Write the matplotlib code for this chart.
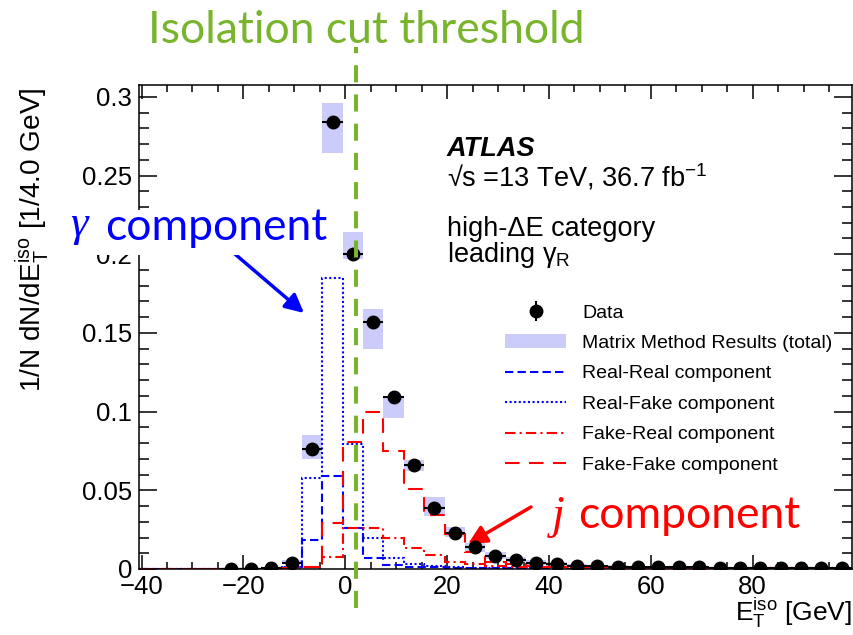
import numpy as np
import matplotlib.pyplot as plt
from matplotlib.patches import Patch, Rectangle
from matplotlib.lines import Line2D
from matplotlib.ticker import MultipleLocator, FuncFormatter

plt.rcParams['font.family'] = ['Liberation Sans', 'DejaVu Sans']
plt.rcParams['mathtext.fontset'] = 'custom'
plt.rcParams['mathtext.rm'] = 'Liberation Sans'
plt.rcParams['mathtext.it'] = 'Liberation Sans:italic'
plt.rcParams['mathtext.bf'] = 'Liberation Sans:bold'

W, H = 854, 635

# 4 GeV bins of E_T^iso
bin_edges = np.arange(-40.5, 100.0, 4.0)

# data points (bins from -24.5 GeV upwards)
data_centres = np.arange(-22.5, 98.0, 4.0)
data_vals = [0.0002, 0.0003, 0.0008, 0.004, 0.076, 0.284, 0.200, 0.157, 0.109, 0.066,
             0.039, 0.023, 0.014, 0.0085, 0.0058, 0.004, 0.0032, 0.0022, 0.0018, 0.0015,
             0.0013, 0.0012, 0.0011, 0.0010, 0.0009, 0.0009, 0.0008, 0.0008, 0.0007, 0.0007,
             0.0006]

# matrix method total, lower / upper edge of the uncertainty band
mm_lo = [0.0, 0.0, 0.0003, 0.003, 0.070, 0.264, 0.197, 0.140, 0.096, 0.0620,
         0.0335, 0.0205, 0.0105, 0.0065, 0.0042, 0.0028, 0.0021, 0.0013, 0.0010, 0.0008,
         0.0007, 0.0006, 0.0005, 0.0005, 0.0004, 0.0004, 0.0004, 0.0003, 0.0003, 0.0003,
         0.0002]
mm_hi = [0.0005, 0.0006, 0.0012, 0.006, 0.085, 0.296, 0.214, 0.165, 0.110, 0.0694,
         0.0455, 0.0267, 0.0165, 0.0105, 0.0075, 0.0055, 0.0043, 0.0033, 0.0027, 0.0023,
         0.0020, 0.0018, 0.0017, 0.0015, 0.0014, 0.0014, 0.0013, 0.0013, 0.0012, 0.0012,
         0.0011]

# components (all 35 bins)
real_real = [0.0] * 7 + [0.001, 0.0186, 0.059, 0.026, 0.007, 0.0026, 0.0015, 0.001, 0.0008, 0.0006,
                         0.0005, 0.0004, 0.0004, 0.0003, 0.0003, 0.0003, 0.0002, 0.0002, 0.0002, 0.0002,
                         0.0002, 0.0001, 0.0001, 0.0001, 0.0001, 0.0001, 0.0001, 0.0001]
real_fake = [0.0] * 7 + [0.0015, 0.0575, 0.185, 0.0795, 0.020, 0.007, 0.003, 0.0018, 0.0012, 0.0009,
                         0.0007, 0.0006, 0.0005, 0.0005, 0.0004, 0.0004, 0.0003, 0.0003, 0.0003, 0.0003,
                         0.0002, 0.0002, 0.0002, 0.0002, 0.0002, 0.0002, 0.0002, 0.0002]
fake_real = [0.0] * 6 + [0.0002, 0.0008, 0.0015, 0.0079, 0.026, 0.026, 0.020, 0.0135, 0.009, 0.0047,
                         0.003, 0.002, 0.0015, 0.0012, 0.001, 0.0009, 0.0008, 0.0007, 0.0007, 0.0006,
                         0.0006, 0.0005, 0.0005, 0.0005, 0.0004, 0.0004, 0.0004, 0.0004, 0.0003]
fake_fake = [0.0] * 7 + [0.0005, 0.001, 0.0295, 0.081, 0.0998, 0.075, 0.0506, 0.034, 0.0224, 0.0107,
                         0.0047, 0.003, 0.002, 0.0015, 0.0012, 0.001, 0.0009, 0.0008, 0.0007, 0.0006,
                         0.0006, 0.0005, 0.0005, 0.0004, 0.0004, 0.0004, 0.0003, 0.0003]

ISO_CUT = 2.1   # GeV

GREEN = '#78b52d'
BAND = '#ccccfa'

# line styles of the four components
LS_RR = (0, (4, 2))
LS_RF = (0, (1, 1.2))
LS_FR = (0, (5, 2, 1, 2))
LS_FF = (0, (7, 4.5))


def px(x, y):
    # pixel position (from top-left) -> figure fraction
    return x / W, 1 - y / H


fig = plt.figure(figsize=(W / 100, H / 100), dpi=100)
ax = fig.add_axes([139 / W, 1 - 569 / H, (852 - 139) / W, (569 - 85) / H])

# ── matrix method band ──────────────────────────────────────
mm_lo = np.array(mm_lo)
mm_hi = np.array(mm_hi)
ax.bar(data_centres, mm_hi - mm_lo, bottom=mm_lo, width=4.0,
       color=BAND, edgecolor='none', zorder=1)

# ── components ──────────────────────────────────────────────
ax.stairs(real_real, bin_edges, color='#0000ff', lw=1.5, linestyle=LS_RR, zorder=2)
ax.stairs(real_fake, bin_edges, color='#0000ff', lw=1.5, linestyle=LS_RF, zorder=2)
ax.stairs(fake_real, bin_edges, color='#ff0000', lw=1.5, linestyle=LS_FR, zorder=2)
ax.stairs(fake_fake, bin_edges, color='#ff0000', lw=1.5, linestyle=LS_FF, zorder=2)

# ── data ────────────────────────────────────────────────────
ax.errorbar(data_centres, data_vals, xerr=2.0, fmt='o', color='black',
            ms=9, elinewidth=1.5, capsize=0, zorder=3)

ax.set_xlim(-40.5, 99.5)
ax.set_ylim(0, 0.3075)

ax.xaxis.set_major_locator(MultipleLocator(20))
ax.xaxis.set_minor_locator(MultipleLocator(5))
ax.yaxis.set_major_locator(MultipleLocator(0.05))
ax.yaxis.set_minor_locator(MultipleLocator(0.01))
ax.yaxis.set_major_formatter(FuncFormatter(lambda v, p: f'{v:g}'))
ax.tick_params(axis='both', which='both', direction='in', top=True, right=True,
               width=1.1, labelsize=18.5)
ax.tick_params(axis='x', which='major', length=10, pad=4)
ax.tick_params(axis='x', which='minor', length=5)
ax.tick_params(axis='y', which='major', length=13, pad=5)
ax.tick_params(axis='y', which='minor', length=7)
for sp in ax.spines.values():
    sp.set_linewidth(1.1)

ax.set_ylabel(r'1/N dN/dE$_{\mathrm{T}}^{\mathrm{iso}}$ [1/4.0 GeV]', fontsize=20.2, loc='top')
ax.yaxis.set_label_coords(-0.124, 0.995)
fig.text(*px(852, 621), r'E$_{\mathrm{T}}^{\mathrm{iso}}$ [GeV]', fontsize=19,
         ha='right', va='baseline')

# ── legend ──────────────────────────────────────────────────
data_proxy = ax.errorbar([np.nan], [np.nan], yerr=[1.0], fmt='o', color='black',
                         ms=9, elinewidth=1.5, capsize=0)
handles = [
    data_proxy,
    Patch(facecolor=BAND, edgecolor='none'),
    Line2D([], [], color='#0000ff', lw=1.5, linestyle=LS_RR),
    Line2D([], [], color='#0000ff', lw=1.5, linestyle=LS_RF),
    Line2D([], [], color='#ff0000', lw=1.5, linestyle=LS_FR),
    Line2D([], [], color='#ff0000', lw=1.5, linestyle=LS_FF),
]
labels = ['Data', 'Matrix Method Results (total)', 'Real-Real component',
          'Real-Fake component', 'Fake-Real component', 'Fake-Fake component']
fig.legend(handles, labels, loc='upper left', bbox_to_anchor=px(505, 304),
           frameon=False, fontsize=14, handlelength=3.15, handletextpad=0.82,
           labelspacing=0.66, borderpad=0, borderaxespad=0)

# ── ATLAS labels ────────────────────────────────────────────
fig.text(*px(447, 156), 'ATLAS', fontsize=19.5, weight='bold', style='italic', va='baseline')
fig.text(*px(447, 187), '√s =13 TeV, 36.7 fb$^{-1}$', fontsize=19.5, va='baseline')
fig.text(*px(447, 236), 'high-ΔE category', fontsize=19.5, va='baseline')
fig.text(*px(447, 262), r'leading γ$_{\mathrm{R}}$', fontsize=19.5, va='baseline')

# ── isolation cut and annotations ───────────────────────────
ax.plot([ISO_CUT, ISO_CUT], [-0.08, 1.078], transform=ax.get_xaxis_transform(),
        color=GREEN, lw=2.9, dashes=(4.25, 3), clip_on=False, zorder=4)
fig.text(*px(366, 43), 'Isolation cut threshold', fontsize=32, family='Lato',
         color=GREEN, ha='center', va='baseline')

fig.add_artist(Rectangle(px(85, 255), (336 - 85) / W, (255 - 210) / H,
                         transform=fig.transFigure, facecolor='white',
                         edgecolor='none', zorder=5))
fig.text(*px(70, 236), 'γ', fontsize=32, family='Liberation Serif', style='italic',
         color='#0000ff', va='baseline', zorder=6)
fig.text(*px(327, 240), 'component', fontsize=32, family='Lato',
         color='#0000ff', ha='right', va='baseline', zorder=6)
fig.text(*px(552, 528), 'j', fontsize=33, family='Liberation Serif', style='italic',
         color='#ff0000', va='baseline', zorder=6)
fig.text(*px(800, 528), 'component', fontsize=32, family='Lato',
         color='#ff0000', ha='right', va='baseline', zorder=6)

ax.annotate('', xy=px(304, 313), xycoords='figure fraction',
            xytext=px(215, 237), textcoords='figure fraction',
            arrowprops=dict(arrowstyle='-|>', color='#0000ff', lw=2.5,
                            mutation_scale=28, shrinkA=0, shrinkB=0))
ax.annotate('', xy=px(468, 544), xycoords='figure fraction',
            xytext=px(531, 507), textcoords='figure fraction',
            arrowprops=dict(arrowstyle='-|>', color='#ff0000', lw=2.5,
                            mutation_scale=28, shrinkA=0, shrinkB=0))

fig.savefig('out.png', dpi=100)
